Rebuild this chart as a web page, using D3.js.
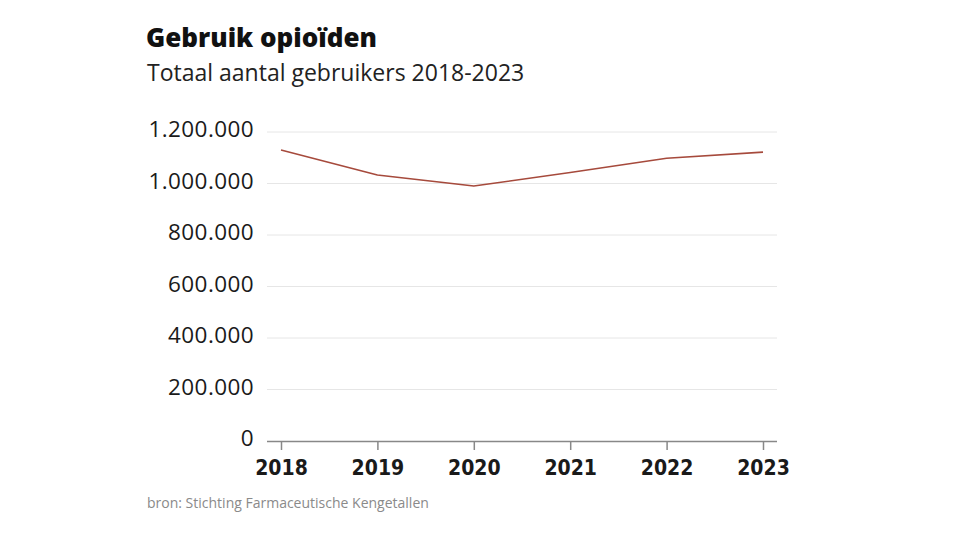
<!DOCTYPE html>
<html>
<head>
<meta charset="utf-8">
<script src="https://cdn.jsdelivr.net/npm/d3@7"></script>
<style>
  html, body { margin: 0; padding: 0; background: #fff; }
  svg { display: block; }
</style>
</head>
<body>
<svg id="chart" width="960" height="540"></svg>
<script>
const years = ["2018", "2019", "2020", "2021", "2022", "2023"];
const users = [1130000, 1033000, 990000, 1043000, 1098000, 1122000];
const yTicks = [0, 200000, 400000, 600000, 800000, 1000000, 1200000];
const title = "Gebruik opioïden";
const subtitle = "Totaal aantal gebruikers 2018-2023";
const source = "bron: Stichting Farmaceutische Kengetallen";

const svg = d3.select("#chart");
const FONT = "'Open Sans', 'Noto Sans', sans-serif";

const x = d3.scalePoint().domain(years).range([281, 763]);
const y = d3.scaleLinear().domain([0, 1200000]).range([441, 132]);

const fmt = d3.formatLocale({ decimal: ",", thousands: ".", grouping: [3], currency: ["€", ""] }).format(",d");

svg.append("text").attr("x", 146).attr("y", 47)
  .attr("font-family", FONT).attr("font-weight", 800)
  .attr("font-size", 26).attr("fill", "#111").text(title);
svg.append("text").attr("x", 147).attr("y", 81)
  .attr("font-family", FONT)
  .attr("font-size", 23).attr("fill", "#222").text(subtitle);

// grid
const grid = svg.append("g");
grid.selectAll("line").data(yTicks.filter(d => d > 0)).join("line")
  .attr("x1", 267).attr("x2", 777)
  .attr("y1", d => y(d)).attr("y2", d => y(d))
  .attr("stroke", "#e6e6e6").attr("stroke-width", 1);

// y axis labels
const yAxis = svg.append("g").attr("transform", "translate(254,0)")
  .call(d3.axisLeft(y).tickValues(yTicks).tickFormat(fmt).tickSize(0).tickPadding(0));
yAxis.select(".domain").remove();
yAxis.selectAll("text")
  .attr("font-family", FONT)
  .attr("font-size", 22.5).attr("letter-spacing", 0.4)
  .attr("fill", "#1a1a1a").attr("dy", "0.2em");

// x axis
const xAxis = svg.append("g").attr("transform", "translate(0,441)")
  .call(d3.axisBottom(x).tickSize(9).tickPadding(6).tickSizeOuter(0));
xAxis.select(".domain").attr("d", "M267,0.5H777").attr("stroke", "#888").attr("stroke-width", 1.5);
xAxis.selectAll(".tick line").attr("stroke", "#888").attr("stroke-width", 1.5);
xAxis.selectAll("text")
  .attr("font-family", "'DejaVu Sans', sans-serif").attr("font-weight", "bold")
  .attr("font-stretch", "condensed")
  .attr("font-size", 21).attr("fill", "#1a1a1a").attr("dy", "0.9em");

// line
const line = d3.line().x((d, i) => x(years[i])).y(d => y(d));
svg.append("path").datum(users)
  .attr("d", line).attr("fill", "none")
  .attr("stroke", "#a64a3c").attr("stroke-width", 1.6)
  .attr("stroke-linejoin", "round");

svg.append("text").attr("x", 147).attr("y", 508)
  .attr("font-family", FONT)
  .attr("font-size", 14).attr("fill", "#8a8a8a").text(source);
</script>
</body>
</html>
